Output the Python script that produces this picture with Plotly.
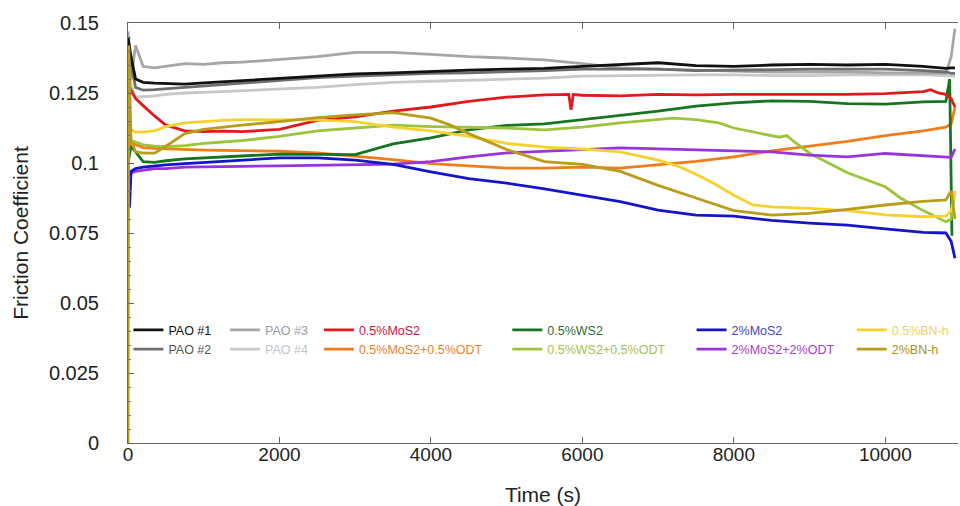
import plotly.graph_objects as go

# ---------------- data ----------------
time_s = [0, 40, 100, 200, 350, 500, 750, 1000, 1250, 1500, 2000, 2500, 3000, 3500, 4000, 4500,
          5000, 5500, 6000, 6500, 7000, 7500, 8000, 8500, 9000, 9500, 10000, 10500, 10800, 10870, 10920]

pao1 = [0.145, 0.138, 0.130, 0.1288, 0.1285, 0.1284, 0.1282, 0.1286, 0.129, 0.1295, 0.1302, 0.1312, 0.1318,
        0.1322, 0.1328, 0.1332, 0.1335, 0.1338, 0.1345, 0.1352, 0.1358, 0.1348, 0.1345, 0.1350, 0.1352, 0.1350,
        0.1352, 0.1345, 0.1338, 0.1340, 0.1340]
pao2 = [0.143, 0.135, 0.127, 0.1260, 0.1262, 0.1265, 0.1270, 0.1275, 0.1280, 0.1285, 0.1295, 0.1305, 0.1310,
        0.1315, 0.1320, 0.1322, 0.1325, 0.1330, 0.1335, 0.1335, 0.1335, 0.1330, 0.1332, 0.1335, 0.1335, 0.1335,
        0.1335, 0.1330, 0.1325, 0.1320, 0.1320]
pao3 = [0.147, 0.130, 0.142, 0.1345, 0.1340, 0.1345, 0.1355, 0.1352, 0.1358, 0.1360, 0.1370, 0.1380, 0.1395,
        0.1395, 0.1388, 0.1380, 0.1375, 0.1368, 0.1355, 0.1340, 0.1335, 0.1332, 0.1330, 0.1325, 0.1325, 0.1325,
        0.1322, 0.1320, 0.1320, 0.1380, 0.1480]
pao4 = [0.140, 0.128, 0.1235, 0.1236, 0.1240, 0.1245, 0.1250, 0.1252, 0.1255, 0.1260, 0.1265, 0.1270, 0.1280,
        0.1288, 0.1292, 0.1296, 0.1300, 0.1303, 0.1310, 0.1312, 0.1312, 0.1315, 0.1315, 0.1312, 0.1312, 0.1315,
        0.1315, 0.1315, 0.1312, 0.1310, 0.1310]

time_mos2_05 = [0, 40, 100, 200, 350, 500, 750, 1000, 1250, 1500, 2000, 2500, 3000, 3500, 4000, 4500, 5000,
                5500, 5820, 5850, 5880, 6000, 6500, 7000, 7500, 8000, 8500, 9000, 9500, 10000, 10500, 10600,
                10700, 10800, 10870, 10920]
mos2_05 = [0.128, 0.126, 0.123, 0.1205, 0.1168, 0.1135, 0.1115, 0.1112, 0.1114, 0.1112, 0.1120, 0.1152, 0.1165,
           0.1185, 0.1200, 0.1220, 0.1235, 0.1243, 0.1245, 0.1190, 0.1245, 0.1242, 0.1240, 0.1245, 0.1243, 0.1245,
           0.1245, 0.1245, 0.1245, 0.1248, 0.1255, 0.1262, 0.1250, 0.1245, 0.1230, 0.1200]

mos2_05_odt = [0.105, 0.1075, 0.1065, 0.1055, 0.1052, 0.1050, 0.1048, 0.1046, 0.1045, 0.1044, 0.1042, 0.1036,
               0.1025, 0.1012, 0.0998, 0.0990, 0.0982, 0.0982, 0.0985, 0.0982, 0.0994, 0.1006, 0.1022, 0.1043,
               0.1060, 0.1077, 0.1098, 0.1115, 0.1128, 0.1140, 0.1200]

time_ws2 = [0, 40, 100, 200, 350, 500, 750, 1000, 1250, 1500, 2000, 2500, 3000, 3500, 4000, 4500, 5000, 5500,
            6000, 6500, 7000, 7500, 8000, 8500, 9000, 9500, 10000, 10500, 10800, 10850, 10880]
ws2 = [0.100, 0.106, 0.104, 0.1005, 0.1002, 0.1008, 0.1015, 0.1018, 0.1020, 0.1025, 0.1032, 0.1030, 0.1030,
       0.1068, 0.1090, 0.1118, 0.1134, 0.1140, 0.1155, 0.1168, 0.1185, 0.1203, 0.1215, 0.1222, 0.1220, 0.1212,
       0.1210, 0.1218, 0.1220, 0.1300, 0.0740]

time_ws2_odt = [0, 40, 100, 200, 350, 500, 750, 1000, 1250, 1500, 2000, 2500, 3000, 3500, 4000, 4500, 5000,
                5500, 6000, 6500, 7000, 7200, 7500, 7800, 8000, 8300, 8600, 8700, 8800, 9000, 9500, 10000,
                10200, 10500, 10800, 10870, 10920]
ws2_odt = [0.110, 0.108, 0.1075, 0.1065, 0.1060, 0.1058, 0.1062, 0.1070, 0.1075, 0.1080, 0.1095, 0.1115, 0.1125,
           0.1135, 0.1130, 0.1128, 0.1125, 0.1118, 0.1128, 0.1143, 0.1157, 0.1160, 0.1155, 0.1143, 0.1125, 0.1108,
           0.1092, 0.1098, 0.1075, 0.1035, 0.0965, 0.0915, 0.0875, 0.0830, 0.0790, 0.0800, 0.0900]

time_mos2_2 = [0, 20, 40, 100, 200, 350, 500, 750, 1000, 1250, 1500, 2000, 2500, 3000, 3500, 4000, 4500, 5000,
               5500, 6000, 6500, 7000, 7500, 8000, 8500, 9000, 9500, 10000, 10500, 10800, 10870, 10920]
mos2_2 = [0.098, 0.084, 0.097, 0.098, 0.0985, 0.0990, 0.0993, 0.0998, 0.1002, 0.1005, 0.1008, 0.1018, 0.1018,
          0.1010, 0.0995, 0.0968, 0.0944, 0.0928, 0.0908, 0.0884, 0.0862, 0.0832, 0.0814, 0.0810, 0.0795, 0.0785,
          0.0778, 0.0765, 0.0752, 0.0750, 0.0720, 0.0660]

mos2_2_odt = [0.095, 0.0965, 0.0970, 0.0975, 0.0980, 0.0980, 0.0985, 0.0986, 0.0986, 0.0988, 0.0990, 0.0992,
              0.0993, 0.0996, 0.1005, 0.1022, 0.1036, 0.1043, 0.1048, 0.1054, 0.1050, 0.1046, 0.1044, 0.1040,
              0.1028, 0.1022, 0.1034, 0.1025, 0.1020, 0.1020, 0.1050]

time_bn_05 = [0, 40, 100, 200, 350, 500, 750, 1000, 1250, 1500, 2000, 2500, 3000, 3500, 4000, 4500, 5000, 5500,
              6000, 6500, 7000, 7250, 7500, 7750, 8000, 8250, 8500, 9000, 9500, 10000, 10500, 10800, 10870, 10920]
bn_05 = [0.115, 0.112, 0.111, 0.111, 0.1115, 0.1130, 0.1143, 0.1148, 0.1152, 0.1155, 0.1155, 0.1154, 0.1148,
         0.1128, 0.1115, 0.1095, 0.1070, 0.1057, 0.1050, 0.1040, 0.1010, 0.0990, 0.0960, 0.0925, 0.0885, 0.0850,
         0.0843, 0.0838, 0.0830, 0.0815, 0.0808, 0.0810, 0.0830, 0.0900]

time_bn_2 = [0, 10, 40, 100, 200, 350, 500, 750, 1000, 1250, 1500, 2000, 2500, 3000, 3500, 4000, 4250, 4500,
             5000, 5500, 6000, 6500, 7000, 7500, 8000, 8500, 9000, 9500, 10000, 10500, 10800, 10870, 10920]
bn_2 = [0.0, 0.142, 0.108, 0.104, 0.1035, 0.1035, 0.1060, 0.1105, 0.1120, 0.1128, 0.1135, 0.1148, 0.1162, 0.1172,
        0.1180, 0.1160, 0.1136, 0.1105, 0.1048, 0.1005, 0.0995, 0.0970, 0.0920, 0.0875, 0.0830, 0.0814, 0.0820,
        0.0834, 0.0850, 0.0863, 0.0868, 0.0900, 0.0800]

x_ticks = [0, 2000, 4000, 6000, 8000, 10000]
y_ticks = [0, 0.025, 0.05, 0.075, 0.1, 0.125, 0.15]
y_tick_text = ["0", "0.025", "0.05", "0.075", "0.1", "0.125", "0.15"]

# (name, x, y, line colour, legend text colour, legend id, rank)
series = [
    ("PAO #4", time_s, pao4, "#c8c8c8", "#c4c4c4", "legend2", 2),
    ("PAO #3", time_s, pao3, "#a6a6a6", "#9c9c9c", "legend2", 1),
    ("PAO #2", time_s, pao2, "#6e6e6e", "#555555", "legend", 2),
    ("PAO #1", time_s, pao1, "#111111", "#111111", "legend", 1),
    ("0.5%MoS2+0.5%ODT", time_s, mos2_05_odt, "#f07d1a", "#e8822e", "legend3", 2),
    ("0.5%WS2", time_ws2, ws2, "#17751f", "#2d6b3a", "legend4", 1),
    ("0.5%WS2+0.5%ODT", time_ws2_odt, ws2_odt, "#9cc43c", "#a2c255", "legend4", 2),
    ("0.5%MoS2", time_mos2_05, mos2_05, "#e31a1c", "#d0143c", "legend3", 1),
    ("2%MoS2+2%ODT", time_s, mos2_2_odt, "#9933dd", "#a040d0", "legend5", 2),
    ("2%MoS2", time_mos2_2, mos2_2, "#1515c8", "#4545c0", "legend5", 1),
    ("0.5%BN-h", time_bn_05, bn_05, "#f5d230", "#f0d060", "legend6", 1),
    ("2%BN-h", time_bn_2, bn_2, "#b89c1a", "#a89020", "legend6", 2),
]

fig = go.Figure()
for name, xs, ys, col, tcol, leg, rank in series:
    fig.add_trace(go.Scatter(
        x=xs, y=ys, mode="lines",
        name=f'<span style="color:{tcol}">{name}</span>',
        line=dict(color=col, width=2.8),
        legend=leg, legendrank=rank,
    ))

FONT = "Liberation Sans, Arial, sans-serif"

# legend columns (paper x) and top (paper y)
leg_cols = {"legend": 0.0005, "legend2": 0.117, "legend3": 0.230, "legend4": 0.457, "legend5": 0.679, "legend6": 0.872}
leg_y = 0.304
legend_layouts = {}
for key, xpos in leg_cols.items():
    legend_layouts[key] = dict(
        x=xpos, y=leg_y, xanchor="left", yanchor="top", orientation="v",
        bgcolor="rgba(0,0,0,0)", borderwidth=0,
        font=dict(family=FONT, size=12.5, color="#222"),
        itemwidth=30, tracegroupgap=0,
    )

fig.update_layout(
    width=960, height=506,
    margin=dict(l=128, r=2, t=23, b=63),
    paper_bgcolor="white", plot_bgcolor="white",
    font=dict(family=FONT, color="#222"),
    showlegend=True,
    **legend_layouts,
)

fig.update_xaxes(
    range=[0, 10960], tickvals=x_ticks, ticktext=[str(v) for v in x_ticks],
    ticks="inside", ticklen=6, tickcolor="#666", showline=True, linecolor="#666", linewidth=1,
    mirror="ticks", showgrid=False, zeroline=False, ticklabelstandoff=-6,
    tickfont=dict(family=FONT, size=19, color="#222"),
    title=dict(text="Time (s)", font=dict(family=FONT, size=21, color="#222"), standoff=23),
)
fig.update_yaxes(
    range=[0, 0.15], tickvals=y_ticks, ticktext=y_tick_text,
    ticks="inside", ticklen=6, tickcolor="#666", showline=True, linecolor="#666", linewidth=1,
    minor=dict(dtick=0.005, ticks="inside", ticklen=3, tickcolor="#777", showgrid=False),
    showgrid=False, zeroline=False, ticklabelstandoff=24,
    tickfont=dict(family=FONT, size=20, color="#222"),
    title=dict(text="Friction Coefficient", font=dict(family=FONT, size=21, color="#222"), standoff=14),
)

fig.write_html("out.html")
